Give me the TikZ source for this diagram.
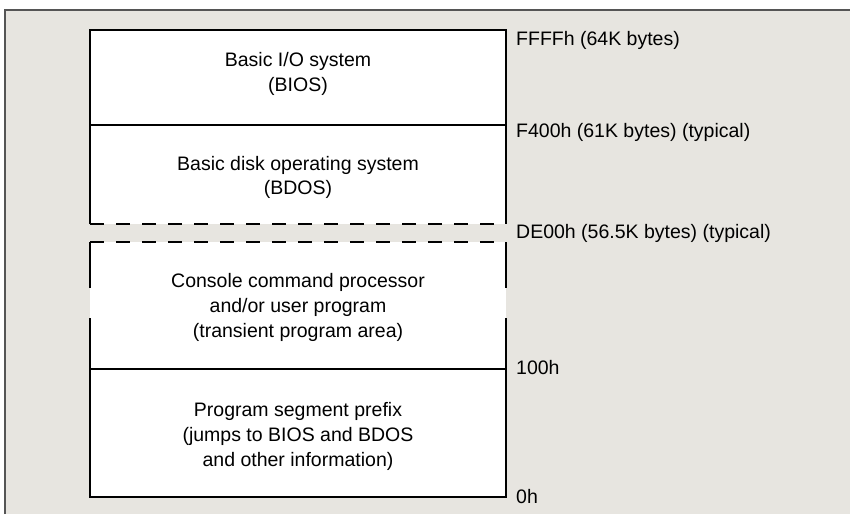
\documentclass[tikz,border=0pt]{standalone}
\usepackage{fontspec}
\setmainfont{Liberation Sans}
\definecolor{paper}{RGB}{231,229,224}
\definecolor{framegray}{RGB}{85,85,85}
\tikzset{
  boxline/.style={line width=2pt, black},
  dashline/.style={line width=2pt, black, dash pattern=on 14pt off 12pt},
  boxtext/.style={font=\fontsize{19.5}{25}\selectfont, anchor=base, inner sep=0pt},
  addr/.style={font=\fontsize{19.5}{25}\selectfont, anchor=base west, inner sep=0pt},
}
\begin{document}
\begin{tikzpicture}[x=1pt,y=-1pt]
\useasboundingbox (0,0) rectangle (850,514);
\fill[white] (0,0) rectangle (850,514);
% page background and frame
\fill[paper] (5,10) rectangle (850,514);
\draw[framegray, line width=1.6pt] (5,514) -- (5,10) -- (850,10);
% white areas of the boxes
\fill[white] (90,30) rectangle (506,224);
\fill[white] (90,242) rectangle (506,497);
% upper box
\draw[boxline] (90,224) -- (90,30) -- (506,30) -- (506,224);
\draw[boxline] (90,125) -- (506,125);
\draw[dashline] (90,224) -- (506,224);
% lower box
\draw[dashline] (90,242) -- (506,242);
\draw[boxline] (90,242) -- (90,288);
\draw[boxline] (506,242) -- (506,288);
\draw[boxline] (90,318) -- (90,497) -- (506,497) -- (506,318);
\draw[boxline] (90,369) -- (506,369);
% box texts
\node[boxtext] (bios1) at (298,66) {Basic I/O system};
\node[boxtext] (bios2) at (298,91) {(BIOS)};
\node[boxtext] (bdos1) at (298,170) {Basic disk operating system};
\node[boxtext] (bdos2) at (298,194) {(BDOS)};
\node[boxtext] (ccp1) at (298,287) {Console command processor};
\node[boxtext] (ccp2) at (298,312) {and/or user program};
\node[boxtext] (ccp3) at (298,337) {(transient program area)};
\node[boxtext] (psp1) at (298,416) {Program segment prefix};
\node[boxtext] (psp2) at (298,441) {(jumps to BIOS and BDOS};
\node[boxtext] (psp3) at (298,466) {and other information)};
% addresses
\node[addr] (aFFFF) at (516,45) {FFFFh (64K bytes)};
\node[addr] (aF400) at (516,137) {F400h (61K bytes) (typical)};
\node[addr] (aDE00) at (516,238) {DE00h (56.5K bytes) (typical)};
\node[addr] (a100) at (516,374) {100h};
\node[addr] (a0) at (516,503) {0h};
\end{tikzpicture}
\end{document}
